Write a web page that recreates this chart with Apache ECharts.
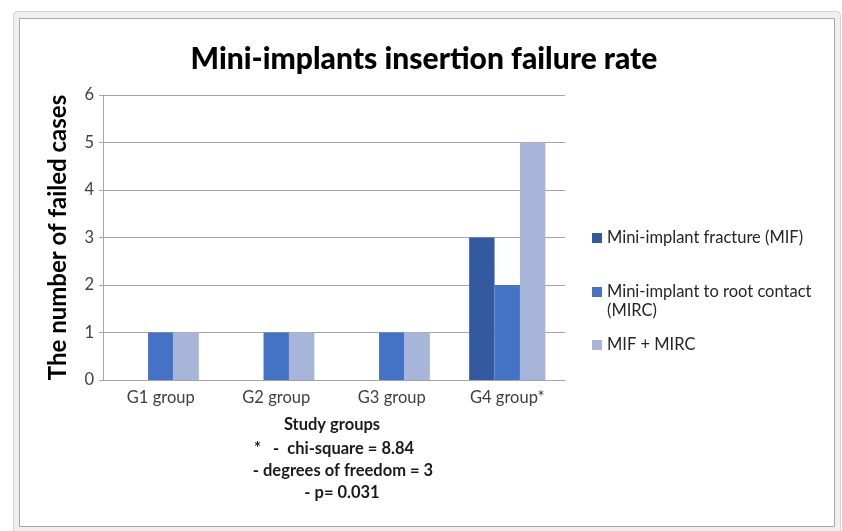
<!DOCTYPE html>
<html>
<head>
<meta charset="utf-8">
<script src="https://cdn.jsdelivr.net/npm/echarts@6/dist/echarts.min.js"></script>
<style>
html,body{margin:0;padding:0;background:#fff;}
#c{width:842px;height:531px;}
</style>
</head>
<body>
<div id="c"></div>
<script>
const categories = ['G1 group', 'G2 group', 'G3 group', 'G4 group*'];
const seriesNames = ['Mini-implant fracture (MIF)', 'Mini-implant to root contact', 'MIF + MIRC'];
const legendWrap = '(MIRC)';
const mifValues = [0, 0, 0, 3];
const mircValues = [1, 1, 1, 2];
const bothValues = [1, 1, 1, 5];
const yTicks = [0, 1, 2, 3, 4, 5, 6];
const footLines = ['Study groups', '*   -  chi-square = 8.84', '- degrees of freedom = 3', '- p= 0.031'];

const colors = ['#335AA1', '#4472C4', '#A7B5DB'];
const chart = echarts.init(document.getElementById('c'), null, {renderer: 'canvas'});
const font = 'Lato, "Open Sans", sans-serif';
const footFont = 'bold 16.5px ' + font;

function legendAt(name, top) {
  return {
    orient: 'vertical', left: 587, top: top,
    itemWidth: 10, itemHeight: 10, icon: 'rect',
    textStyle: {fontFamily: font, fontSize: 16.5, color: '#262626', lineHeight: 18},
    data: [name]
  };
}

chart.setOption({
  animation: false,
  backgroundColor: '#ffffff',
  color: colors,
  graphic: [
    {type: 'rect', z: -10, shape: {x: 13.5, y: 11.5, width: 827, height: 522, r: 4},
     style: {fill: '#efefef', stroke: '#d4d4d4', lineWidth: 1}},
    {type: 'rect', z: -9, shape: {x: 19.5, y: 18.5, width: 815, height: 508},
     style: {fill: '#ffffff', stroke: '#a8a8a8', lineWidth: 1}},
    {type: 'text', z: 10,
     style: {x: 607, y: 311, text: legendWrap, font: '16.5px ' + font, fill: '#262626', textVerticalAlign: 'middle'}},
    {type: 'text', z: 10,
     style: {x: 332, y: 425, text: footLines[0], font: footFont, fill: '#1a1a1a', textAlign: 'center', textVerticalAlign: 'middle'}},
    {type: 'text', z: 10,
     style: {x: 334, y: 449, text: footLines[1], font: footFont, fill: '#1a1a1a', textAlign: 'center', textVerticalAlign: 'middle'}},
    {type: 'text', z: 10,
     style: {x: 343, y: 471, text: footLines[2], font: footFont, fill: '#1a1a1a', textAlign: 'center', textVerticalAlign: 'middle'}},
    {type: 'text', z: 10,
     style: {x: 342, y: 493, text: footLines[3], font: footFont, fill: '#1a1a1a', textAlign: 'center', textVerticalAlign: 'middle'}}
  ],
  title: {
    text: 'Mini-implants insertion failure rate',
    left: 419,
    textAlign: 'center',
    top: 39,
    textStyle: {fontFamily: font, fontWeight: 900, fontSize: 30, color: '#000000'}
  },
  legend: [
    legendAt(seriesNames[0], 224),
    legendAt(seriesNames[1], 278),
    legendAt(seriesNames[2], 331)
  ],
  grid: {left: 103, right: 277, top: 95, bottom: 151, containLabel: false},
  xAxis: {
    type: 'category',
    data: categories,
    axisLine: {lineStyle: {color: '#a6a6a6', width: 1}},
    axisTick: {show: false},
    axisLabel: {fontFamily: font, fontSize: 16.5, color: '#404040', margin: 9}
  },
  yAxis: {
    type: 'value',
    min: 0, max: 6, interval: 1,
    name: 'The number of failed cases',
    nameLocation: 'middle',
    nameGap: 33,
    nameTextStyle: {fontFamily: font, fontWeight: 'bold', fontSize: 24, color: '#000000'},
    axisLine: {show: true, lineStyle: {color: '#a6a6a6', width: 1}},
    axisTick: {show: true, length: 4, lineStyle: {color: '#a6a6a6'}},
    axisLabel: {fontFamily: font, fontSize: 16.5, color: '#404040', margin: 9,
      formatter: v => yTicks.includes(v) ? String(v) : ''},
    splitLine: {lineStyle: {color: '#a6a6a6', width: 1}}
  },
  series: [
    {name: seriesNames[0], type: 'bar', data: mifValues, barGap: '0%', barCategoryGap: '34%'},
    {name: seriesNames[1], type: 'bar', data: mircValues, barGap: '0%', barCategoryGap: '34%'},
    {name: seriesNames[2], type: 'bar', data: bothValues, barGap: '0%', barCategoryGap: '34%'}
  ]
});
</script>
</body>
</html>
